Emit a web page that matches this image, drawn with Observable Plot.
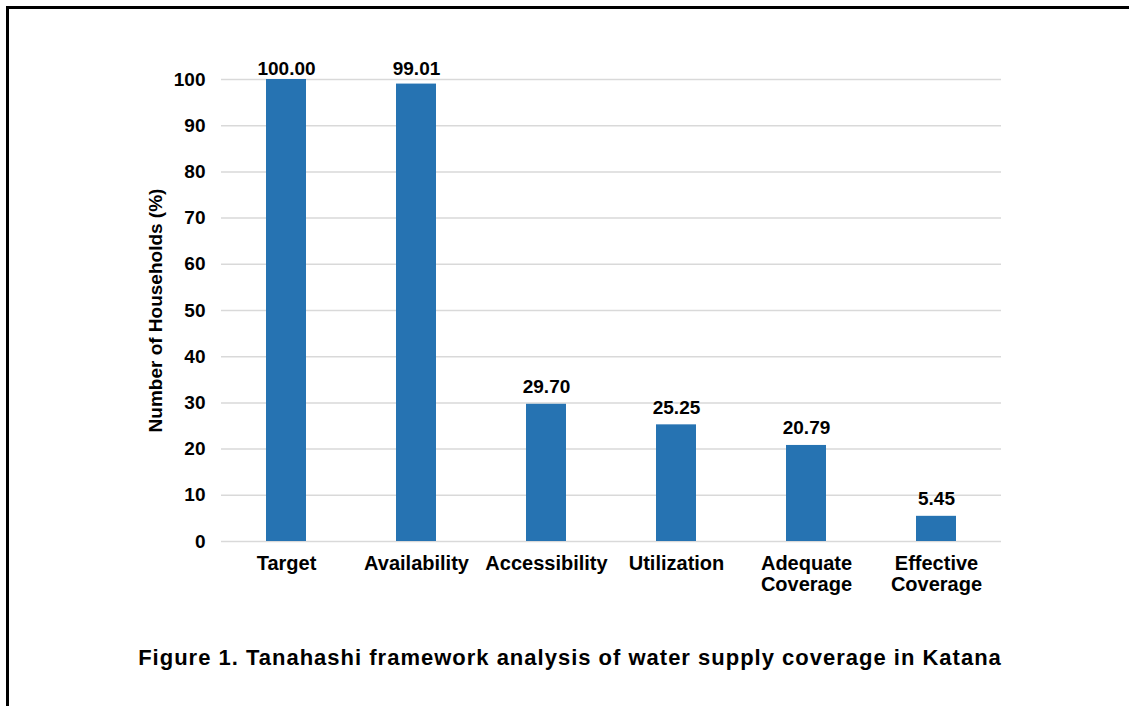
<!DOCTYPE html>
<html><head><meta charset="utf-8">
<script src="https://cdn.jsdelivr.net/npm/d3@7"></script>
<script src="https://cdn.jsdelivr.net/npm/@observablehq/plot@0.6"></script>
<style>
body{margin:0;background:#fff;font-family:"Liberation Sans",Arial,sans-serif;width:1129px;height:706px;overflow:hidden;}
#frame{position:absolute;left:6px;top:6px;right:0;bottom:0;border-top:3px solid #000;border-left:3px solid #000;}
#chart{position:absolute;left:0;top:0;}
#caption{position:absolute;left:0;width:1140px;top:645px;text-align:center;font-weight:bold;font-size:22px;letter-spacing:1px;color:#000;white-space:nowrap;}
</style></head><body>
<div id="frame"></div><div id="chart"></div>
<div id="caption">Figure 1. Tanahashi framework analysis of water supply coverage in Katana</div>
<script>
const categories = ["Target","Availability","Accessibility","Utilization","Adequate\nCoverage","Effective\nCoverage"];
const values = [100.00, 99.01, 29.70, 25.25, 20.79, 5.45];
const yTicks = [0,10,20,30,40,50,60,70,80,90,100];
const yTitle = "Number of Households (%)";
const data = categories.map((c,i)=>({category:c, value:values[i]}));
const chart = Plot.plot({
  width:1129, height:620, marginLeft:221, marginRight:128, marginTop:79, marginBottom:79,
  style:{fontFamily:"'Liberation Sans', Arial, sans-serif", fontWeight:"bold", fontSize:"19px", color:"#000", background:"transparent", overflow:"visible"},
  x:{domain:categories, paddingInner:0.69, paddingOuter:0.345, label:null},
  y:{domain:[0,100], label:null},
  marks:[
    Plot.gridY(yTicks,{stroke:"#d9d9d9", strokeOpacity:1, strokeWidth:1.5}),
    Plot.barY(data,{x:"category", y:"value", fill:"#2673b2"}),
    Plot.text(data,{x:"category", y:d=>Math.min(d.value,98.5), text:d=>d.value.toFixed(2), dy:-11, lineAnchor:"bottom", fontSize:19, fontWeight:"bold", fill:"#000"}),
    Plot.axisY({ticks:yTicks, tickSize:0, tickPadding:16, label:null, fontSize:19, fontWeight:"bold"}),
    Plot.axisX({tickSize:0, tickPadding:13, label:null, lineHeight:1.08, fontSize:20, fontWeight:"bold"}),
    Plot.text([yTitle], {frameAnchor:"left", textAnchor:"middle", rotate:-90, dx:-66, fontSize:19, fontWeight:"bold", fill:"#000"})
  ]
});
document.getElementById("chart").append(chart);
</script>
</body></html>
